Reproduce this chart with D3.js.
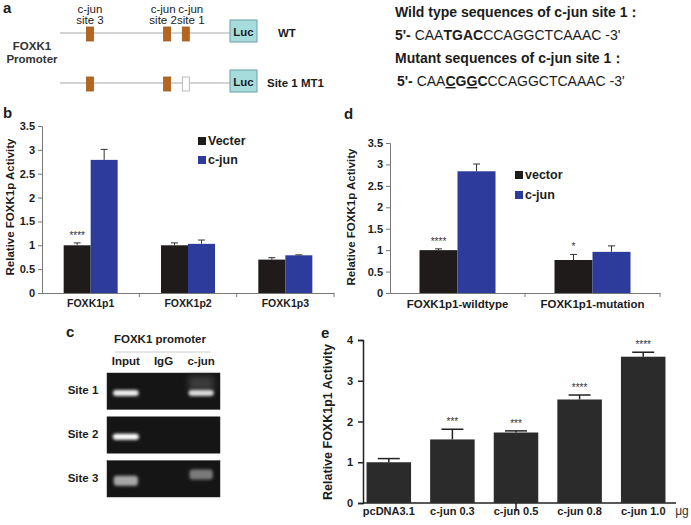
<!DOCTYPE html>
<html><head><meta charset="utf-8">
<script src="https://cdn.jsdelivr.net/npm/d3@7"></script>
<style>
body{margin:0;background:#fff}
svg{display:block}
text{font-family:"Liberation Sans",Arial,Helvetica,sans-serif}
</style>
</head><body>
<svg id="fig" width="691" height="525"></svg>
<script>
// ---------------- DATA ----------------
// panel a
const promoterSites = ["site 3", "site 2", "site 1"];
const promoterSitePos = [0.176, 0.63, 0.74];      // relative position along promoter
const promoterRows = ["WT", "Site 1 MT1"];
const promoterMutated = [[], ["site 1"]];
const seqTitles = ["Wild type sequences of c-jun site 1\uFF1A", "Mutant sequences of c-jun site  1\uFF1A"];
const wtSequence = [["5'- ", "b"], ["CAA", ""], ["TGAC", "b"], ["CCAGGCTCAAAC -3'", ""]];
const mtSequence = [["5'- ", "b"], ["CAA", ""], ["C", "bu"], ["G", "b"], ["G", "bu"], ["C", "b"], ["CCAGGCTCAAAC -3'", ""]];

// panel b
const bCategories = ["FOXK1p1", "FOXK1p2", "FOXK1p3"];
const bSeries = ["Vecter", "c-jun"];
const bVecter = [1.00, 1.00, 0.70];
const bVecterErr = [0.05, 0.05, 0.04];
const bCjun = [2.79, 1.03, 0.79];
const bCjunErr = [0.22, 0.08, 0.01];
const bStars = ["****", "", ""];
const bTicks = [0, 0.5, 1, 1.5, 2, 2.5, 3, 3.5];

// panel c (ChIP gel)
const gelSites = ["Site 1", "Site 2", "Site 3"];
const gelLanes = ["Input", "IgG", "c-jun"];
const gelIntensity = [[0.92, 0, 0.82], [1.0, 0, 0], [0.55, 0, 0.32]];

// panel d
const dCategories = ["FOXK1p1-wildtype", "FOXK1p1-mutation"];
const dSeries = ["vector", "c-jun"];
const dVector = [1.00, 0.77];
const dVectorErr = [0.03, 0.13];
const dCjun = [2.84, 0.96];
const dCjunErr = [0.17, 0.14];
const dStars = ["****", "*"];
const dTicks = [0, 0.5, 1, 1.5, 2, 2.5, 3, 3.5];

// panel e
const eCategories = ["pcDNA3.1", "c-jun 0.3", "c-jun 0.5", "c-jun 0.8", "c-jun 1.0"];
const eValues = [1.00, 1.56, 1.73, 2.54, 3.59];
const eErr = [0.09, 0.25, 0.04, 0.11, 0.11];
const eStars = ["", "***", "***", "****", "****"];
const eTicks = [0, 1, 2, 3, 4];

// ---------------- DRAW ----------------
const svg = d3.select("#fig");
const INK = "#1c1c1c";
const BLACKBAR = "#1f1b1b";
const BLUE = "#2c3b9c";

function txt(g, x, y, s, o = {}) {
  return g.append("text").attr("x", x).attr("y", y).text(s)
    .attr("font-size", o.size || 11)
    .attr("font-weight", o.bold ? "bold" : "normal")
    .attr("fill", o.fill || INK)
    .attr("text-anchor", o.anchor || "start");
}

// panel letters
[["a", 3, 13], ["b", 3, 118], ["d", 344, 119], ["c", 66, 337], ["e", 321, 338]].forEach(([l, x, y]) =>
  txt(svg, x, y, l, {size: 15, bold: true}));

// ===== Panel a =====
(function () {
  const g = svg.append("g");
  const ax = d3.scaleLinear([0, 1], [60, 230]);
  const rowY = d3.scalePoint(promoterRows, [33, 83]);
  const labelNudge = {"site 3": 0, "site 2": -4, "site 1": 5};
  promoterSites.forEach((s, i) => {
    const cx = ax(promoterSitePos[i]) + labelNudge[s];
    txt(g, cx, 13, "c-jun", {size: 11.5, anchor: "middle", fill: "#222"});
    txt(g, cx, 24, s, {size: 11.5, anchor: "middle", fill: "#222"});
  });
  promoterRows.forEach((r, ri) => {
    const y = rowY(r);
    g.append("line").attr("x1", ax(0)).attr("x2", ax(1)).attr("y1", y).attr("y2", y)
      .attr("stroke", "#aaa").attr("stroke-width", 1.2);
    promoterSites.forEach((s, i) => {
      const mut = promoterMutated[ri].includes(s);
      g.append("rect").attr("x", ax(promoterSitePos[i]) - 3.5).attr("y", y - 6)
        .attr("width", 7).attr("height", 14)
        .attr("fill", mut ? "#fff" : "#b6651f")
        .attr("stroke", mut ? "#aaa" : "#a05a1c").attr("stroke-width", 0.8);
    });
    g.append("rect").attr("x", ax(1)).attr("y", y - 13).attr("width", 27).attr("height", 22)
      .attr("fill", "#a7dcdc").attr("stroke", "#6b9ea6").attr("stroke-width", 1);
    txt(g, ax(1) + 13.5, y + 3, "Luc", {size: 11.5, bold: true, anchor: "middle"});
  });
  txt(g, 278, 37, promoterRows[0], {size: 11.5, bold: true});
  txt(g, 267, 87, promoterRows[1], {size: 11.5, bold: true});
  txt(g, 32, 50, "FOXK1", {size: 11.5, bold: true, anchor: "middle", fill: "#333"});
  txt(g, 32, 63, "Promoter", {size: 11.5, bold: true, anchor: "middle", fill: "#333"});

  // sequences
  txt(g, 395, 17, seqTitles[0], {size: 14, bold: true});
  txt(g, 395, 63, seqTitles[1], {size: 14, bold: true});
  function seq(x, y, parts) {
    const t = g.append("text").attr("x", x).attr("y", y).attr("font-size", 14).attr("fill", INK);
    parts.forEach(([s, st]) => {
      t.append("tspan").text(s)
        .attr("font-weight", st.includes("b") ? "bold" : "normal")
        .attr("text-decoration", st.includes("u") ? "underline" : null);
    });
  }
  seq(395, 40, wtSequence);
  seq(397, 86, mtSequence);
})();

// ===== grouped bar panels (b, d) =====
function grouped(o) {
  const g = svg.append("g");
  const y = d3.scaleLinear([0, 3.5], o.yRange);
  const x0 = d3.scaleBand(o.cats, o.xRange);
  const x1 = d3.scaleBand(o.series, [0, o.barW * 2]);
  const off = (x0.bandwidth() - o.barW * 2) / 2;
  const colors = [BLACKBAR, BLUE];

  // y axis
  const ya = g.append("g").attr("transform", `translate(${o.xRange[0]},0)`)
    .call(d3.axisLeft(y).tickValues(o.ticks).tickSize(4).tickPadding(3).tickFormat(d3.format("")));
  ya.select(".domain").attr("stroke", "#777");
  ya.selectAll(".tick line").attr("stroke", "#777");
  ya.selectAll("text").attr("font-size", 11).attr("font-weight", "bold").attr("fill", INK)
    .attr("font-family", null);

  // x axis
  const base = o.yRange[0];
  const xa = g.append("g").attr("transform", `translate(0,${base})`)
    .call(d3.axisBottom(x0).tickSize(0).tickPadding(7));
  xa.select(".domain").attr("stroke", "#777");
  xa.selectAll("text").attr("font-size", o.catSize).attr("font-weight", "bold").attr("fill", INK)
    .attr("font-family", null);
  o.cats.forEach(c => {
    g.append("line").attr("x1", x0(c) + x0.bandwidth()).attr("x2", x0(c) + x0.bandwidth())
      .attr("y1", base).attr("y2", base + 4).attr("stroke", "#777");
  });

  // bars
  o.series.forEach((s, si) => {
    o.cats.forEach((c, ci) => {
      const v = o.values[si][ci], e = o.errs[si][ci];
      const bx = x0(c) + off + x1(s);
      g.append("rect").attr("x", bx).attr("y", y(v)).attr("width", x1.bandwidth())
        .attr("height", y(0) - y(v)).attr("fill", colors[si]);
      const cx = bx + x1.bandwidth() / 2;
      g.append("line").attr("x1", cx).attr("x2", cx).attr("y1", y(v)).attr("y2", y(v + e))
        .attr("stroke", "#333").attr("stroke-width", 1);
      g.append("line").attr("x1", cx - 3.5).attr("x2", cx + 3.5).attr("y1", y(v + e)).attr("y2", y(v + e))
        .attr("stroke", "#333").attr("stroke-width", 1);
      if (si === 0 && o.stars[ci])
        txt(g, cx, y(v + e) - 4, o.stars[ci], {size: 10, anchor: "middle", fill: "#333"});
    });
  });

  // legend
  o.series.forEach((s, si) => {
    const ly = o.legend.y + si * o.legend.dy;
    g.append("rect").attr("x", o.legend.x).attr("y", ly - 8).attr("width", 8).attr("height", 8)
      .attr("fill", colors[si]);
    txt(g, o.legend.x + 10, ly, s, {size: 12.5, bold: true});
  });

  // y title
  txt(g, 0, 0, o.title, {size: 11.5, bold: true, anchor: "middle"})
    .attr("transform", `translate(${o.titleX},${o.titleY}) rotate(-90)`);
}

grouped({
  cats: bCategories, series: bSeries,
  values: [bVecter, bCjun], errs: [bVecterErr, bCjunErr], stars: bStars,
  xRange: [42, 334], yRange: [293, 126], ticks: bTicks, barW: 27, catSize: 10.5,
  legend: {x: 198, y: 145, dy: 19},
  title: "Relative FOXK1p Activity", titleX: 14, titleY: 207
});

grouped({
  cats: dCategories, series: dSeries,
  values: [dVector, dCjun], errs: [dVectorErr, dCjunErr], stars: dStars,
  xRange: [390, 660], yRange: [293, 143], ticks: dTicks, barW: 38, catSize: 11.5,
  legend: {x: 515, y: 179, dy: 20},
  title: "Relative FOXK1p Activity", titleX: 355, titleY: 217
});

// ===== Panel c (gel) =====
(function () {
  const g = svg.append("g");
  const defs = svg.append("defs");
  defs.append("filter").attr("id", "blur").attr("x", "-50%").attr("y", "-200%").attr("width", "200%").attr("height", "500%")
    .append("feGaussianBlur").attr("stdDeviation", 1.6);
  defs.append("filter").attr("id", "blur2").attr("x", "-50%").attr("y", "-100%").attr("width", "200%").attr("height", "300%")
    .append("feGaussianBlur").attr("stdDeviation", 3);

  const lx = d3.scaleBand(gelLanes, [107, 220]);
  const ry = d3.scaleBand(gelSites, [373, 497]).paddingInner(0.17);

  txt(g, 160, 343, "FOXK1 promoter", {size: 11.5, bold: true, anchor: "middle"});
  g.append("line").attr("x1", 115).attr("x2", 210).attr("y1", 352).attr("y2", 352)
    .attr("stroke", "#ccc").attr("stroke-width", 1);
  gelLanes.forEach(l => txt(g, lx(l) + lx.bandwidth() / 2, 365, l, {size: 11.5, bold: true, anchor: "middle"}));

  gelSites.forEach((s, si) => {
    const top = ry(s), h = ry.bandwidth();
    g.append("rect").attr("x", 107).attr("y", top).attr("width", 113).attr("height", h)
      .attr("fill", "#151515").attr("stroke", "#2a2a2a").attr("stroke-width", 0.5);
    txt(g, 83, top + h * 0.58, s, {size: 11.5, bold: true, anchor: "middle"});
    gelLanes.forEach((l, li) => {
      const it = gelIntensity[si][li];
      if (!it) return;
      const cx = lx(l) + lx.bandwidth() / 2;
      const bw = 26 - (1 - it) * 4;
      const by = top + h * (si === 2 && li === 2 ? 0.38 : 0.55);
      const grey = Math.round(60 + 195 * it);
      if (si === 0 && li === 2) {
        g.append("rect").attr("x", cx - bw / 2).attr("y", top + 3).attr("width", bw).attr("height", h * 0.4)
          .attr("fill", "#555").attr("opacity", 0.6).attr("filter", "url(#blur2)");
      }
      g.append("rect").attr("x", cx - bw / 2).attr("y", by - (si === 2 ? 5 : 3)).attr("width", bw)
        .attr("height", si === 2 ? 10 : 6).attr("rx", 3)
        .attr("fill", `rgb(${grey},${grey},${grey})`).attr("filter", "url(#blur)");
    });
  });
})();

// ===== Panel e =====
(function () {
  const g = svg.append("g");
  const y = d3.scaleLinear([0, 4], [503, 340]);
  const x = d3.scaleBand(eCategories, [357, 675]).paddingInner(0.3).paddingOuter(0.15);
  const axX = 363, axEnd = 676;

  const ya = g.append("g").attr("transform", `translate(${axX},0)`)
    .call(d3.axisLeft(y).tickValues(eTicks).tickSize(5).tickPadding(5).tickFormat(d3.format("d")));
  ya.select(".domain").attr("stroke", "#222").attr("stroke-width", 1.5);
  ya.selectAll(".tick line").attr("stroke", "#222").attr("stroke-width", 1.5);
  ya.selectAll("text").attr("font-size", 11).attr("font-weight", "bold").attr("fill", INK).attr("font-family", null);

  g.append("line").attr("x1", axX).attr("x2", axEnd).attr("y1", y(0)).attr("y2", y(0))
    .attr("stroke", "#222").attr("stroke-width", 1.5);
  const mid = x(eCategories[2]) + x.bandwidth() / 2;
  g.append("line").attr("x1", mid).attr("x2", mid).attr("y1", y(0)).attr("y2", y(0) + 8)
    .attr("stroke", "#222").attr("stroke-width", 1.5);

  eCategories.forEach((c, i) => {
    const v = eValues[i], e = eErr[i];
    const bx = x(c), cx = bx + x.bandwidth() / 2;
    g.append("line").attr("x1", cx).attr("x2", cx).attr("y1", y(v)).attr("y2", y(v + e))
      .attr("stroke", "#222").attr("stroke-width", 1.5);
    g.append("line").attr("x1", cx - 11).attr("x2", cx + 11).attr("y1", y(v + e)).attr("y2", y(v + e))
      .attr("stroke", "#222").attr("stroke-width", 1.5);
    g.append("rect").attr("x", bx).attr("y", y(v)).attr("width", x.bandwidth()).attr("height", y(0) - y(v))
      .attr("fill", "#2b2b2b");
    if (eStars[i]) txt(g, cx, y(v + e) - 4, eStars[i], {size: 10, anchor: "middle", fill: "#333"});
    txt(g, cx, 515, c, {size: 11, bold: true, anchor: "middle"});
  });
  txt(g, 682, 515, "\u03BCg", {size: 12, anchor: "middle", fill: "#333"});

  txt(g, 0, 0, "Relative FOXK1p1 Activity", {size: 12.5, bold: true, anchor: "middle"})
    .attr("transform", "translate(332,422) rotate(-90)");
})();
</script>
</body></html>
